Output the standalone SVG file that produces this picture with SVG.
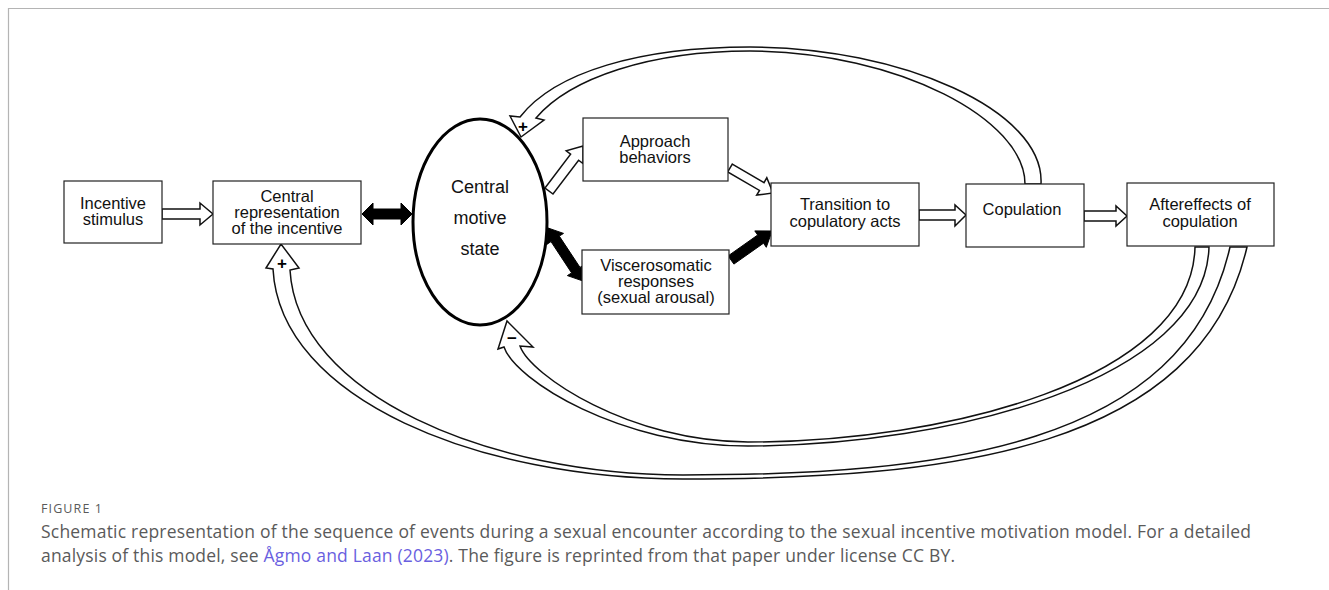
<svg xmlns="http://www.w3.org/2000/svg" width="1329" height="590" viewBox="0 0 1329 590">
<style>
.box{fill:#fff;stroke:#222;stroke-width:1.2}
.t{font-family:"Liberation Sans",Arial,sans-serif;font-size:16.5px;fill:#111;text-anchor:middle}
.te{font-family:"Liberation Sans",Arial,sans-serif;font-size:18px;fill:#111;text-anchor:middle}
.hol{fill:#fff;stroke:#111;stroke-width:1.5;stroke-linejoin:miter}
.blk{fill:#000;stroke:#000;stroke-width:1}
.sign{font-family:"Liberation Sans",Arial,sans-serif;font-size:17px;font-weight:bold;fill:#000;text-anchor:middle}
.cap{font-family:"Open Sans","Noto Sans",sans-serif;fill:#5a5a5a}
</style>
<rect width="1329" height="590" fill="#fff"/>
<g id="frame" stroke="#b4b4b4" stroke-width="1.2" fill="none">
<line x1="8" y1="8.5" x2="1329" y2="8.5"/>
<line x1="8.5" y1="8" x2="8.5" y2="590"/>
</g>
<g id="connectors">
<path class="hol" d="M1041,184 C1045,110 900,47 750,47 C640,47 555,72 520,117 L510,116 L521,137 L544,120 L536,118 C570,78 650,51 750,51 C900,52 1025,120 1025,184 Z"/>
<path class="hol" d="M1247,247 C1200,450 950,479 683,479 C480,479 280,400 273,269 L266,268 L281,244 L299,268 L290,270 C297,395 490,475 683,475 C940,475 1185,447 1230,247 Z"/>
<path class="hol" d="M1209,247 C1205,380 950,446 748,446 C620,446 515,380 504,347 L498,349 L507,321 L533,347 L520,346 C530,375 630,442 748,442 C945,442 1192,380 1195,247 Z"/>
<polygon class="hol" points="162,209 200,209 200,203 213,214 200,225 200,219 162,219"/>
<polygon class="blk" points="362,214 373,203 373,209 401,209 401,203 412,214 401,225 401,219 373,219 373,225"/>
<polygon class="hol" points="545.0,188.0 570.6,154.2 566.2,150.9 583,146 583.0,163.5 578.6,160.2 553.0,194.0"/>
<polygon class="blk" points="548,228 563.5,233.4 559.3,236.1 580.0,267.4 584.2,264.6 583,281 567.4,275.6 571.6,272.9 551.0,241.6 546.8,244.4"/>
<polygon class="hol" points="732.3,164.1 764.0,182.6 766.8,177.8 773,193 756.7,195.1 759.5,190.4 727.7,171.9"/>
<polygon class="blk" points="728.1,255.9 757.7,235.0 754.8,230.9 772,231 766.3,247.3 763.5,243.2 733.9,264.1"/>
<polygon class="hol" points="919,210 955,210 955,205 966,215 955,226 955,220 919,220"/>
<polygon class="hol" points="1084,211 1116,211 1116,206 1127,216 1116,226 1116,221 1084,221"/>
<text class="sign" x="523" y="132">+</text>
<text class="sign" x="282" y="269">+</text>
<text class="sign" x="512" y="344">−</text>
</g>
<g id="incentive-stimulus">
<rect class="box" x="64" y="181" width="98" height="62"/>
<text class="t" x="113" y="209">Incentive</text>
<text class="t" x="113" y="225">stimulus</text>
</g>
<g id="central-representation">
<rect class="box" x="213" y="181" width="148" height="63"/>
<text class="t" x="287" y="202">Central</text>
<text class="t" x="287" y="218">representation</text>
<text class="t" x="287" y="234">of the incentive</text>
</g>
<g id="central-motive-state">
<ellipse cx="480" cy="222" rx="67" ry="103" fill="#fff" stroke="#000" stroke-width="3"/>
<text class="te" x="480" y="193">Central</text>
<text class="te" x="480" y="224">motive</text>
<text class="te" x="480" y="255">state</text>
</g>
<g id="approach-behaviors">
<rect class="box" x="583" y="118" width="145" height="63"/>
<text class="t" x="655" y="147">Approach</text>
<text class="t" x="655" y="163">behaviors</text>
</g>
<g id="viscerosomatic-responses">
<rect class="box" x="582" y="250" width="147" height="64"/>
<text class="t" x="656" y="271">Viscerosomatic</text>
<text class="t" x="656" y="287">responses</text>
<text class="t" x="656" y="303">(sexual arousal)</text>
</g>
<g id="transition">
<rect class="box" x="771" y="183" width="148" height="63"/>
<text class="t" x="845" y="210">Transition to</text>
<text class="t" x="845" y="227">copulatory acts</text>
</g>
<g id="copulation">
<rect class="box" x="966" y="184" width="118" height="63"/>
<text class="t" x="1022" y="215">Copulation</text>
</g>
<g id="aftereffects">
<rect class="box" x="1127" y="183" width="147" height="63"/>
<text class="t" x="1200" y="210">Aftereffects of</text>
<text class="t" x="1200" y="227">copulation</text>
</g>
<g id="caption">
<text class="cap" x="41" y="513" font-size="12.5" fill="#666" textLength="61">FIGURE 1</text>
<text class="cap" x="41" y="538" font-size="17.5" textLength="1210">Schematic representation of the sequence of events during a sexual encounter according to the sexual incentive motivation model. For a detailed</text>
<text class="cap" x="41" y="562" font-size="17.5" textLength="914">analysis of this model, see <tspan fill="#6a5fe0">Ågmo and Laan (2023)</tspan>. The figure is reprinted from that paper under license CC BY.</text>
</g>
</svg>
